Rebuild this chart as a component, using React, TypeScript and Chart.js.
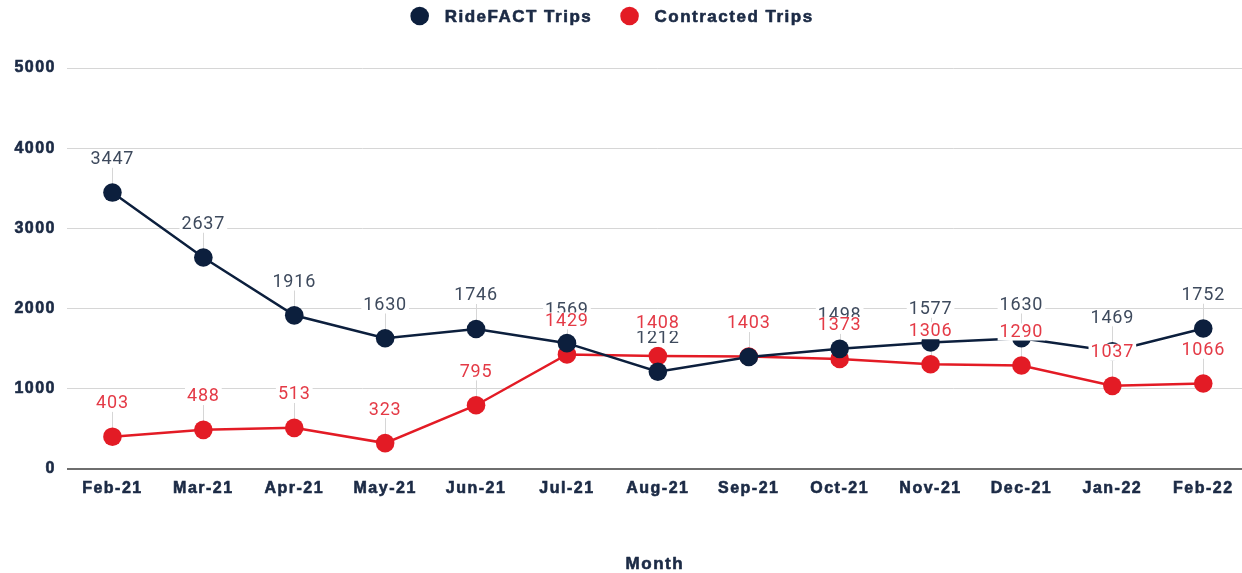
import React, { useEffect, useRef } from 'react';
import { Chart, registerables } from 'chart.js';

Chart.register(...registerables);

const months = ['Feb-21', 'Mar-21', 'Apr-21', 'May-21', 'Jun-21', 'Jul-21', 'Aug-21', 'Sep-21', 'Oct-21', 'Nov-21', 'Dec-21', 'Jan-22', 'Feb-22'];
const rideFactTrips = [3447, 2637, 1916, 1630, 1746, 1569, 1212, 1396, 1498, 1577, 1630, 1469, 1752];
const contractedTrips = [403, 488, 513, 323, 795, 1429, 1408, 1403, 1373, 1306, 1290, 1037, 1066];
const seriesNames = ['RideFACT Trips', 'Contracted Trips'];
const yMin = 0;
const yMax = 5000;
const yStep = 1000;
const xTitle = 'Month';

const NAVY = '#0c1f3d';
const RED = '#e31b25';
const NAVY_LABEL = '#3e4a5d';
const RED_LABEL = '#e43a46';
const TEXT = '#1b2a45';
const BOLD_FONT = '"Liberation Sans", Arial, sans-serif';
const CANVAS_W = 1258;

export default function App() {
  const ref = useRef<HTMLCanvasElement>(null);

  useEffect(() => {
    const canvas = ref.current!;

    const spacingPlugin = {
      id: 'spacing',
      beforeUpdate(c: any) { c.ctx.letterSpacing = '1.5px'; },
      beforeLayout(c: any) { c.ctx.letterSpacing = '1.5px'; },
      beforeDraw(c: any) { c.ctx.letterSpacing = '1.5px'; },
    };

    const leaderPlugin = {
      id: 'leaders',
      beforeDatasetsDraw(c: any) {
        const ctx = c.ctx;
        ctx.save();
        ctx.strokeStyle = '#d6d6d6';
        ctx.lineWidth = 1;
        c.data.datasets.forEach((ds: any, i: number) => {
          const meta = c.getDatasetMeta(i);
          meta.data.forEach((pt: any) => {
            ctx.beginPath();
            ctx.moveTo(Math.round(pt.x) + 0.5, pt.y - 25);
            ctx.lineTo(Math.round(pt.x) + 0.5, pt.y - 8);
            ctx.stroke();
          });
        });
        ctx.restore();
      },
    };

    const labelPlugin = {
      id: 'valueLabels',
      afterDatasetsDraw(c: any) {
        const ctx = c.ctx;
        ctx.save();
        ctx.letterSpacing = '0.8px';
        ctx.font = '18px Roboto, "Noto Sans", sans-serif';
        ctx.textAlign = 'center';
        ctx.textBaseline = 'middle';
        const colors = [NAVY_LABEL, RED_LABEL];
        c.data.datasets.forEach((ds: any, i: number) => {
          const meta = c.getDatasetMeta(i);
          meta.data.forEach((pt: any, j: number) => {
            const txt = String(ds.data[j]);
            const w = ctx.measureText(txt).width;
            const y = pt.y - 34;
            ctx.fillStyle = '#ffffff';
            ctx.fillRect(pt.x - w / 2 - 2, y - 8, w + 4, 17);
            ctx.fillStyle = colors[i];
            ctx.fillText(txt, pt.x, y + 1);
          });
        });
        ctx.restore();
      },
    };

    const legendPlugin = {
      id: 'customLegend',
      afterDraw(c: any) {
        const ctx = c.ctx;
        ctx.save();
        ctx.letterSpacing = '1.5px';
        ctx.font = 'bold 17px ' + BOLD_FONT;
        ctx.textBaseline = 'middle';
        ctx.textAlign = 'left';
        ctx.lineWidth = 0.6;
        ctx.strokeStyle = TEXT;
        ctx.lineJoin = 'round';
        const cols = [NAVY, RED];
        const r = 9.3;
        const toText = 25;
        const gap = 28;
        const widths = seriesNames.map((s) => ctx.measureText(s).width);
        const total = widths.reduce((a, w) => a + r + toText + w, 0) + gap * (seriesNames.length - 1);
        let x = 612 - total / 2;
        const y = 16;
        seriesNames.forEach((s, i) => {
          ctx.fillStyle = cols[i];
          ctx.beginPath();
          ctx.arc(x + r, y, r, 0, Math.PI * 2);
          ctx.fill();
          ctx.fillStyle = TEXT;
          ctx.strokeText(s, x + r + toText, y + 1);
          ctx.fillText(s, x + r + toText, y + 1);
          x += r + toText + widths[i] + gap;
        });

        // x-axis title
        const area = c.chartArea;
        ctx.textAlign = 'center';
        ctx.font = 'bold 17px ' + BOLD_FONT;
        const tx = (area.left + area.right) / 2 - 3;
        const ty = 564;
        ctx.strokeText(xTitle, tx, ty);
        ctx.fillText(xTitle, tx, ty);
        ctx.restore();
      },
    };

    const chart = new Chart(canvas, {
      type: 'line',
      data: {
        labels: months,
        datasets: [
          {
            label: seriesNames[0],
            data: rideFactTrips,
            borderColor: NAVY,
            backgroundColor: NAVY,
            pointBackgroundColor: NAVY,
            borderWidth: 2.5,
            pointRadius: 9.3,
            pointBorderWidth: 0,
            tension: 0,
          },
          {
            label: seriesNames[1],
            data: contractedTrips,
            borderColor: RED,
            backgroundColor: RED,
            pointBackgroundColor: RED,
            borderWidth: 2.5,
            pointRadius: 9.3,
            pointBorderWidth: 0,
            tension: 0,
          },
        ],
      },
      options: {
        responsive: false,
        animation: false,
        layout: { padding: { top: 68, left: 0, right: 0, bottom: 0 } },
        plugins: {
          legend: { display: false },
          tooltip: { enabled: false },
        },
        scales: {
          x: {
            offset: true,
            grid: { display: false, drawTicks: false },
            border: { display: false },
            ticks: {
              color: TEXT,
              padding: 10,
              font: { family: BOLD_FONT, size: 16, weight: 'bold' },
              maxRotation: 0,
              autoSkip: false,
              textStrokeColor: TEXT,
              textStrokeWidth: 0.6,
            },
            title: { display: false },
            afterFit(scale: any) { scale.height = 104; },
          },
          y: {
            min: yMin,
            max: yMax,
            grid: {
              drawTicks: false,
              color: (ctx: any) => (ctx.tick && ctx.tick.value === 0 ? '#6e6e6e' : '#d6d6d6'),
              lineWidth: (ctx: any) => (ctx.tick && ctx.tick.value === 0 ? 2 : 1),
            },
            border: { display: false },
            ticks: {
              stepSize: yStep,
              color: TEXT,
              padding: 11,
              font: { family: BOLD_FONT, size: 16, weight: 'bold' },
              callback: (v: any) => String(v),
              textStrokeColor: TEXT,
              textStrokeWidth: 0.6,
            },
            afterFit(scale: any) { scale.width = 67; },
          },
        },
      },
      plugins: [spacingPlugin, leaderPlugin, labelPlugin, legendPlugin],
    } as any);

    return () => chart.destroy();
  }, []);

  return (
    <div style={{ position: 'absolute', left: 0, top: 0, width: 1242, height: 573, overflow: 'hidden', background: '#ffffff' }}>
      <div style={{ width: CANVAS_W, height: 573 }}>
        <canvas ref={ref} width={CANVAS_W} height={573} style={{ display: 'block' }} />
      </div>
    </div>
  );
}
